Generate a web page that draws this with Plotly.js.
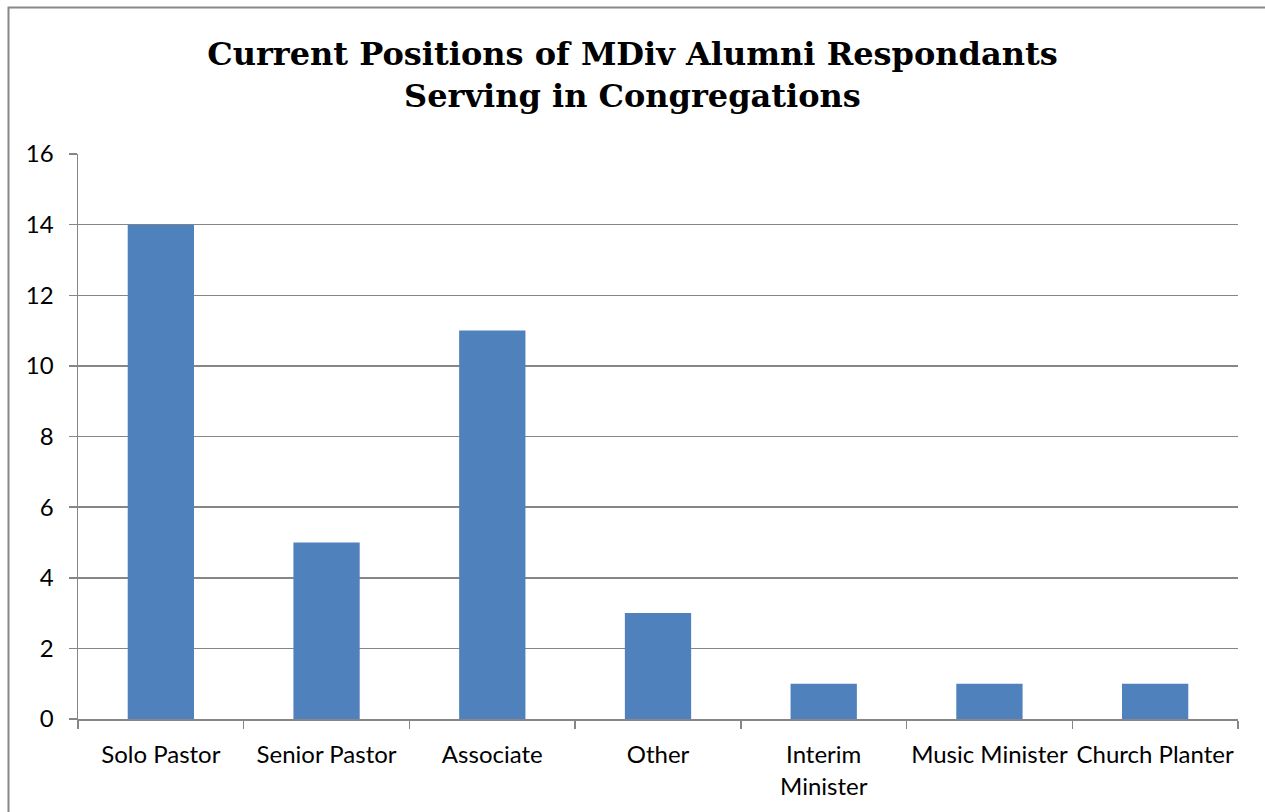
<!DOCTYPE html>
<html><head><meta charset="utf-8">
<script src="https://cdn.plot.ly/plotly-3.0.1.min.js"></script>
<style>html,body{margin:0;padding:0;background:#fff}#chart{width:1265px;height:812px}</style>
</head><body><div id="chart"></div>
<script>
const categories = ["Solo Pastor","Senior Pastor","Associate","Other","Interim<br>Minister","Music Minister","Church Planter"];
const counts = [14, 5, 11, 3, 1, 1, 1];
const yTicks = [0, 2, 4, 6, 8, 10, 12, 14, 16];
const titleText = "Current Positions of MDiv Alumni Respondants<br>Serving in Congregations";

const trace = {
  type: "bar", x: categories, y: counts,
  marker: {color: "#4F81BD"}, width: 0.4, hoverinfo: "x+y"
};
const layout = {
  width: 1265, height: 812,
  margin: {l: 78, r: 27, t: 154, b: 93},
  paper_bgcolor: "#fff", plot_bgcolor: "#fff",
  showlegend: false,
  font: {family: "Lato, 'Open Sans', sans-serif", size: 24, color: "#000"},
  title: {text: titleText, x: 0.5, xanchor: "center", y: 0.92, yanchor: "top",
          font: {family: "'DejaVu Serif', 'Liberation Serif', serif", size: 32, color: "#000", weight: "bold"}},
  xaxis: {type: "category", showline: true, linecolor: "#868686", linewidth: 1.5,
          ticks: "outside", tickson: "boundaries", ticklen: 8, tickcolor: "#868686", tickwidth: 1.5,
          showgrid: false, tickfont: {size: 24}, tickangle: 0, ticklabelstandoff: 14, automargin: false},
  yaxis: {range: [0, 16], tickvals: yTicks, showline: true, linecolor: "#868686", linewidth: 1.5,
          ticks: "outside", ticklen: 8, tickcolor: "#868686", tickwidth: 1.5,
          showgrid: true, gridcolor: "#868686", gridwidth: 1.5, zeroline: false,
          tickfont: {size: 24}, ticklabelstandoff: 10, automargin: false},
  shapes: [{type: "rect", xref: "paper", yref: "paper",
            x0: (8.5 - 78) / 1160, x1: 1.1, y0: -0.3, y1: 1 + (154 - 7.5) / 565,
            line: {color: "#888", width: 2}, fillcolor: "rgba(0,0,0,0)", layer: "below"}]
};
Plotly.newPlot("chart", [trace], layout, {displayModeBar: false, staticPlot: true});
</script></body></html>
